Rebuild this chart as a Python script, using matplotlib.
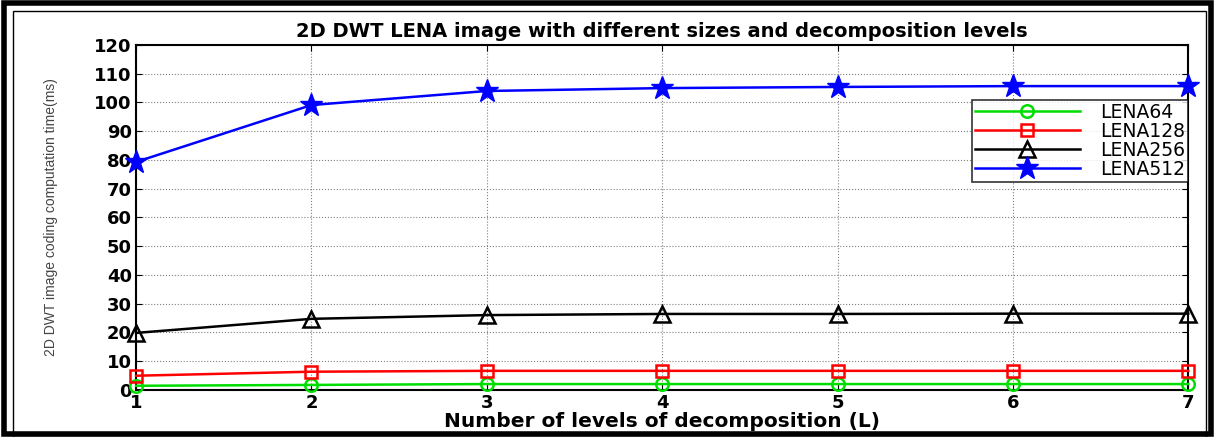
import matplotlib.pyplot as plt
from matplotlib.patches import Rectangle

# Data
levels = [1, 2, 3, 4, 5, 6, 7]
lena64 = [1.4, 1.7, 2.0, 2.0, 2.0, 2.0, 2.0]
lena128 = [4.9, 6.3, 6.6, 6.6, 6.6, 6.6, 6.6]
lena256 = [19.8, 24.7, 26.0, 26.4, 26.4, 26.5, 26.5]
lena512 = [79.3, 99.1, 104.0, 105.0, 105.4, 105.7, 105.7]

plt.rcParams['font.family'] = ['DejaVu Sans']

fig = plt.figure(figsize=(12.15, 4.37), dpi=100)
ax = fig.add_axes([0.112, 0.108, 0.866, 0.789])

kw = dict(lw=1.8, clip_on=False, zorder=3)
ax.plot(levels, lena64, color="#00dd00", marker="o", ms=9, mfc="none", mew=1.8, label="LENA64", **kw)
ax.plot(levels, lena128, color="red", marker="s", ms=9, mfc="none", mew=1.8, label="LENA128", **kw)
ax.plot(levels, lena256, color="black", marker="^", ms=11, mfc="none", mew=1.8, label="LENA256", **kw)
ax.plot(levels, lena512, color="blue", marker="*", ms=17, label="LENA512", **kw)

ax.set_xlim(1, 7)
ax.set_ylim(0, 120)
ax.set_xticks(levels)
ax.set_yticks(range(0, 121, 10))
ax.grid(True, color="gray", linestyle=":", linewidth=0.8)
ax.tick_params(direction="in", length=4, labelsize=13, right=True, top=True, pad=3)
for lbl in ax.get_xticklabels() + ax.get_yticklabels():
    lbl.set_fontweight("bold")
for s in ax.spines.values():
    s.set_linewidth(1.5)

ax.set_title("2D DWT LENA image with different sizes and decomposition levels",
             fontsize=14, fontweight="bold", pad=6)
ax.set_xlabel("Number of levels of decomposition (L)", fontsize=14.5, fontweight="bold", labelpad=0)
ax.set_ylabel("2D DWT image coding computation time(ms)", fontsize=10, color="#444444",
              family="Liberation Sans")
ax.yaxis.set_label_coords(-0.074, 0.5)

leg = ax.legend(loc="upper right", bbox_to_anchor=(1.0, 0.84), borderaxespad=0, fontsize=13.5,
                frameon=True, fancybox=False, edgecolor="black", handlelength=5.6,
                borderpad=0.15, labelspacing=0.0, handletextpad=1.1)
leg.get_frame().set_linewidth(1.2)
leg.set_zorder(5)

# figure borders
fig.patches.append(Rectangle((0.003, 0.006), 0.994, 0.988, transform=fig.transFigure,
                             fill=False, lw=4, edgecolor="black"))
fig.patches.append(Rectangle((0.011, 0.0), 0.982, 0.975, transform=fig.transFigure,
                             fill=False, lw=1, edgecolor="black"))

fig.savefig("out.png", dpi=100)
